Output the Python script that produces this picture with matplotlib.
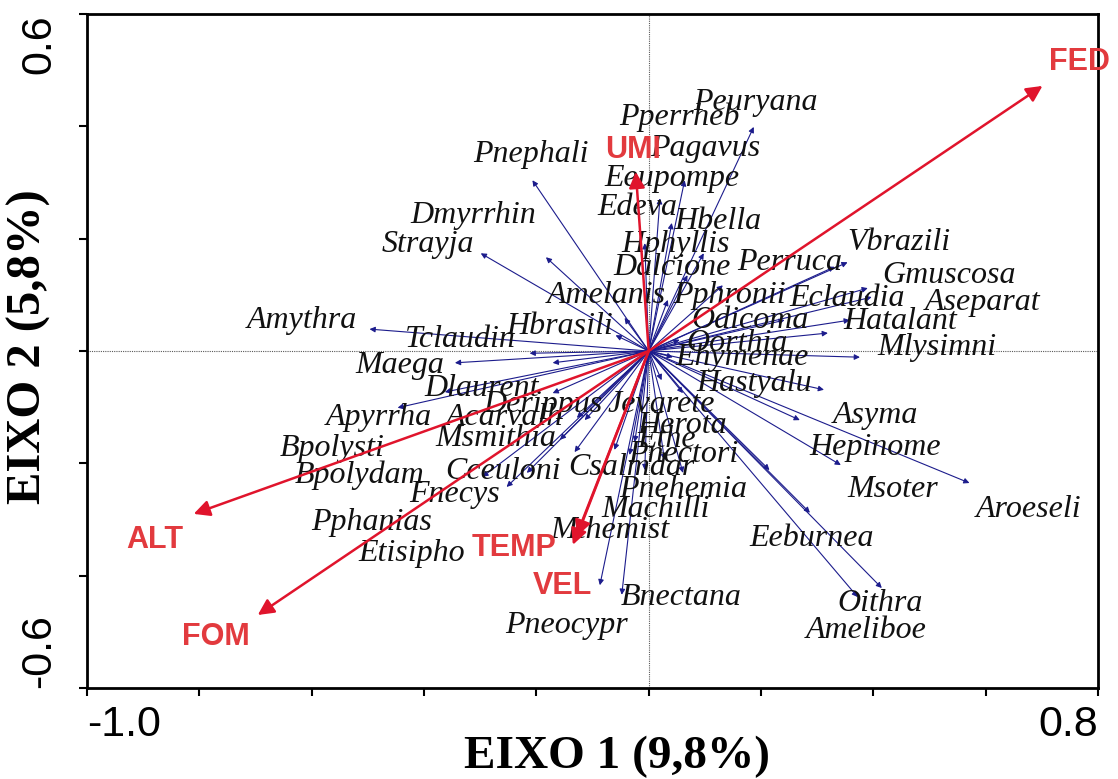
import numpy as np
import matplotlib
matplotlib.use("Agg")
import matplotlib.pyplot as plt

# Species scores on the first two CCA axes
species = ["Peuryana", "Pperrheb", "Pagavus", "Eeupompe", "Edeva", "Hbella",
           "Hphyllis", "Dalcione", "Pphronii", "Amelanis", "Perruca", "Vbrazili",
           "Eclaudia", "Gmuscosa", "Aseparat", "Hatalant", "Odicoma", "Oorthia",
           "Mlysimni", "Ehymenae", "Hastyalu", "Asyma", "Hepinome", "Msoter",
           "Eeburnea", "Aroeseli", "Oithra", "Ameliboe", "Bnectana", "Pneocypr",
           "Mthemist", "Machilli", "Pnehemia", "Csalmdar", "Pnectori", "Ethe",
           "Herota", "Jevarete", "Derippus", "Acarvalh", "Msmithia", "Apyrrha",
           "Bpolysti", "Bpolydam", "Cceuloni", "Fnecys", "Pphanias", "Etisipho",
           "Dlaurent", "Maega", "Tclaudin", "Hbrasili", "Amythra", "Strayja",
           "Dmyrrhin", "Pnephali"]
sp_x = [0.187, 0.064, 0.098, 0.020, -0.007, 0.041,
        0.069, 0.034, 0.132, -0.043, 0.331, 0.354,
        0.397, 0.390, 0.319, 0.358, 0.242, 0.055,
        0.376, 0.043, 0.312, 0.269, 0.342, 0.287,
        0.215, 0.571, 0.415, 0.372, -0.048, -0.087,
        -0.061, -0.034, 0.028, -0.007, 0.061, -0.025,
        0.023, 0.061, -0.171, -0.128, -0.217, -0.447,
        -0.171, -0.114, -0.296, -0.253, -0.158, -0.132,
        -0.363, -0.345, -0.212, -0.059, -0.497, -0.299,
        -0.183, -0.207]
sp_y = [0.399, 0.304, 0.174, 0.272, 0.192, 0.228,
        0.135, 0.091, 0.117, 0.059, 0.150, 0.158,
        0.096, 0.112, 0.032, 0.055, 0.055, 0.020,
        -0.011, -0.011, -0.069, -0.123, -0.203, -0.288,
        -0.212, -0.235, -0.422, -0.438, -0.434, -0.417,
        -0.176, -0.185, -0.194, -0.212, -0.217, -0.162,
        -0.052, -0.075, -0.075, -0.119, -0.217, -0.101,
        -0.021, -0.123, -0.224, -0.242, -0.158, -0.180,
        -0.073, -0.021, -0.004, 0.028, 0.039, 0.174,
        0.167, 0.304]

# Environmental variables (biplot scores)
env = ["FED", "UMI", "ALT", "FOM", "TEMP", "VEL"]
env_x = [0.701, -0.023, -0.810, -0.696, -0.135, -0.128]
env_y = [0.472, 0.319, -0.290, -0.470, -0.345, -0.330]

# where each name is written (centre of the text)
sp_label_xy = {
    "Peuryana": (0.190, 0.442), "Pperrheb": (0.055, 0.417), "Pagavus": (0.100, 0.361),
    "Eeupompe": (0.041, 0.308), "Edeva": (-0.020, 0.256), "Hbella": (0.123, 0.230),
    "Hphyllis": (0.048, 0.189), "Dalcione": (0.041, 0.148), "Perruca": (0.251, 0.158),
    "Pphronii": (0.144, 0.098), "Amelanis": (-0.075, 0.098),
    "Vbrazili": (0.445, 0.194), "Gmuscosa": (0.534, 0.135),
    "Eclaudia": (0.354, 0.094), "Aseparat": (0.595, 0.087), "Odicoma": (0.180, 0.055),
    "Hatalant": (0.447, 0.052), "Oorthia": (0.158, 0.014), "Mlysimni": (0.513, 0.007),
    "Ehymenae": (0.166, -0.012), "Hastyalu": (0.187, -0.057), "Asyma": (0.404, -0.114),
    "Hepinome": (0.404, -0.171), "Msoter": (0.434, -0.247), "Aroeseli": (0.677, -0.283),
    "Eeburnea": (0.290, -0.333), "Oithra": (0.411, -0.449), "Ameliboe": (0.388, -0.497),
    "Bnectana": (0.057, -0.438), "Pneocypr": (-0.146, -0.488), "Mthemist": (-0.069, -0.319),
    "Machilli": (0.012, -0.283), "Pnehemia": (0.061, -0.247), "Csalmdar": (-0.030, -0.208),
    "Pnectori": (0.061, -0.185), "Ethe": (0.032, -0.158), "Herota": (0.059, -0.132),
    "Jevarete": (0.023, -0.096), "Derippus": (-0.189, -0.096), "Acarvalh": (-0.256, -0.119),
    "Msmithia": (-0.272, -0.155), "Apyrrha": (-0.481, -0.119), "Bpolysti": (-0.563, -0.173),
    "Bpolydam": (-0.515, -0.221), "Cceuloni": (-0.260, -0.215), "Fnecys": (-0.345, -0.256),
    "Pphanias": (-0.493, -0.306), "Etisipho": (-0.422, -0.360), "Dlaurent": (-0.297, -0.066),
    "Maega": (-0.443, -0.025), "Tclaudin": (-0.335, 0.020), "Hbrasili": (-0.158, 0.043),
    "Amythra": (-0.618, 0.055), "Strayja": (-0.393, 0.189), "Dmyrrhin": (-0.312, 0.242),
    "Pnephali": (-0.210, 0.349),
}
env_label_xy = {
    "FED": (0.767, 0.515), "UMI": (-0.028, 0.358), "ALT": (-0.879, -0.336),
    "FOM": (-0.771, -0.509), "TEMP": (-0.239, -0.351), "VEL": (-0.153, -0.418),
}

fig = plt.figure(figsize=(11.18, 7.79), dpi=100)
ax = fig.add_axes([0.0778, 0.1168, 0.9044, 0.8652])
ax.set_xlim(-1.0, 0.8)
ax.set_ylim(-0.6, 0.6)

ax.axhline(0, color="0.35", lw=0.8, ls=(0, (1, 1)), zorder=1)
ax.axvline(0, color="0.35", lw=0.8, ls=(0, (1, 1)), zorder=1)

navy = "#1c1c8c"
red_arrow = "#e0142c"
red_text = "#e23a3e"

# species arrows
for name, x, y in zip(species, sp_x, sp_y):
    ax.annotate("", xy=(x, y), xytext=(0, 0),
                arrowprops=dict(arrowstyle="-|>", color=navy, lw=0.8,
                                mutation_scale=8, shrinkA=0, shrinkB=0),
                zorder=2)
    lx, ly = sp_label_xy[name]
    ax.text(lx, ly, name, family="Liberation Serif", style="italic",
            fontsize=23, color="#111111", ha="center", va="center", zorder=3)

# environmental arrows
for name, x, y in zip(env, env_x, env_y):
    ax.annotate("", xy=(x, y), xytext=(0, 0),
                arrowprops=dict(arrowstyle="-|>", color=red_arrow, lw=1.8,
                                mutation_scale=24, shrinkA=0, shrinkB=0),
                zorder=4)
    lx, ly = env_label_xy[name]
    ax.text(lx, ly, name, family="Liberation Sans", weight="bold",
            fontsize=22, color=red_text, ha="center", va="center", zorder=5)

for s in ax.spines.values():
    s.set_linewidth(2)

ax.set_xticks(np.arange(-1.0, 0.81, 0.2))
ax.set_yticks(np.arange(-0.6, 0.61, 0.2))
ax.set_xticklabels(["-1.0"] + [""] * 8 + ["0.8"])
ax.set_yticklabels(["-0.6"] + [""] * 5 + ["0.6"])
ax.tick_params(direction="out", length=6, width=1.5)
ax.tick_params(axis="x", labelsize=31, pad=6)
ax.tick_params(axis="y", labelsize=31, pad=14)
for lab in ax.get_xticklabels() + ax.get_yticklabels():
    lab.set_family("Liberation Sans")
xl = ax.get_xticklabels()
xl[0].set_ha("left")
xl[-1].set_ha("right")
yl = ax.get_yticklabels()
for lab in yl:
    lab.set_rotation(90)
yl[0].set_va("bottom")
yl[-1].set_va("top")

# axis titles
fig.text(0.552, 0.029, "EIXO 1 (9,8%)", family="Liberation Serif",
         weight="bold", fontsize=34, ha="center", va="center")
fig.text(0.026, 0.555, "EIXO 2 (5,8%)", family="Liberation Serif",
         weight="bold", fontsize=35, ha="center", va="center", rotation=90)

fig.savefig("out.png", dpi=100)
